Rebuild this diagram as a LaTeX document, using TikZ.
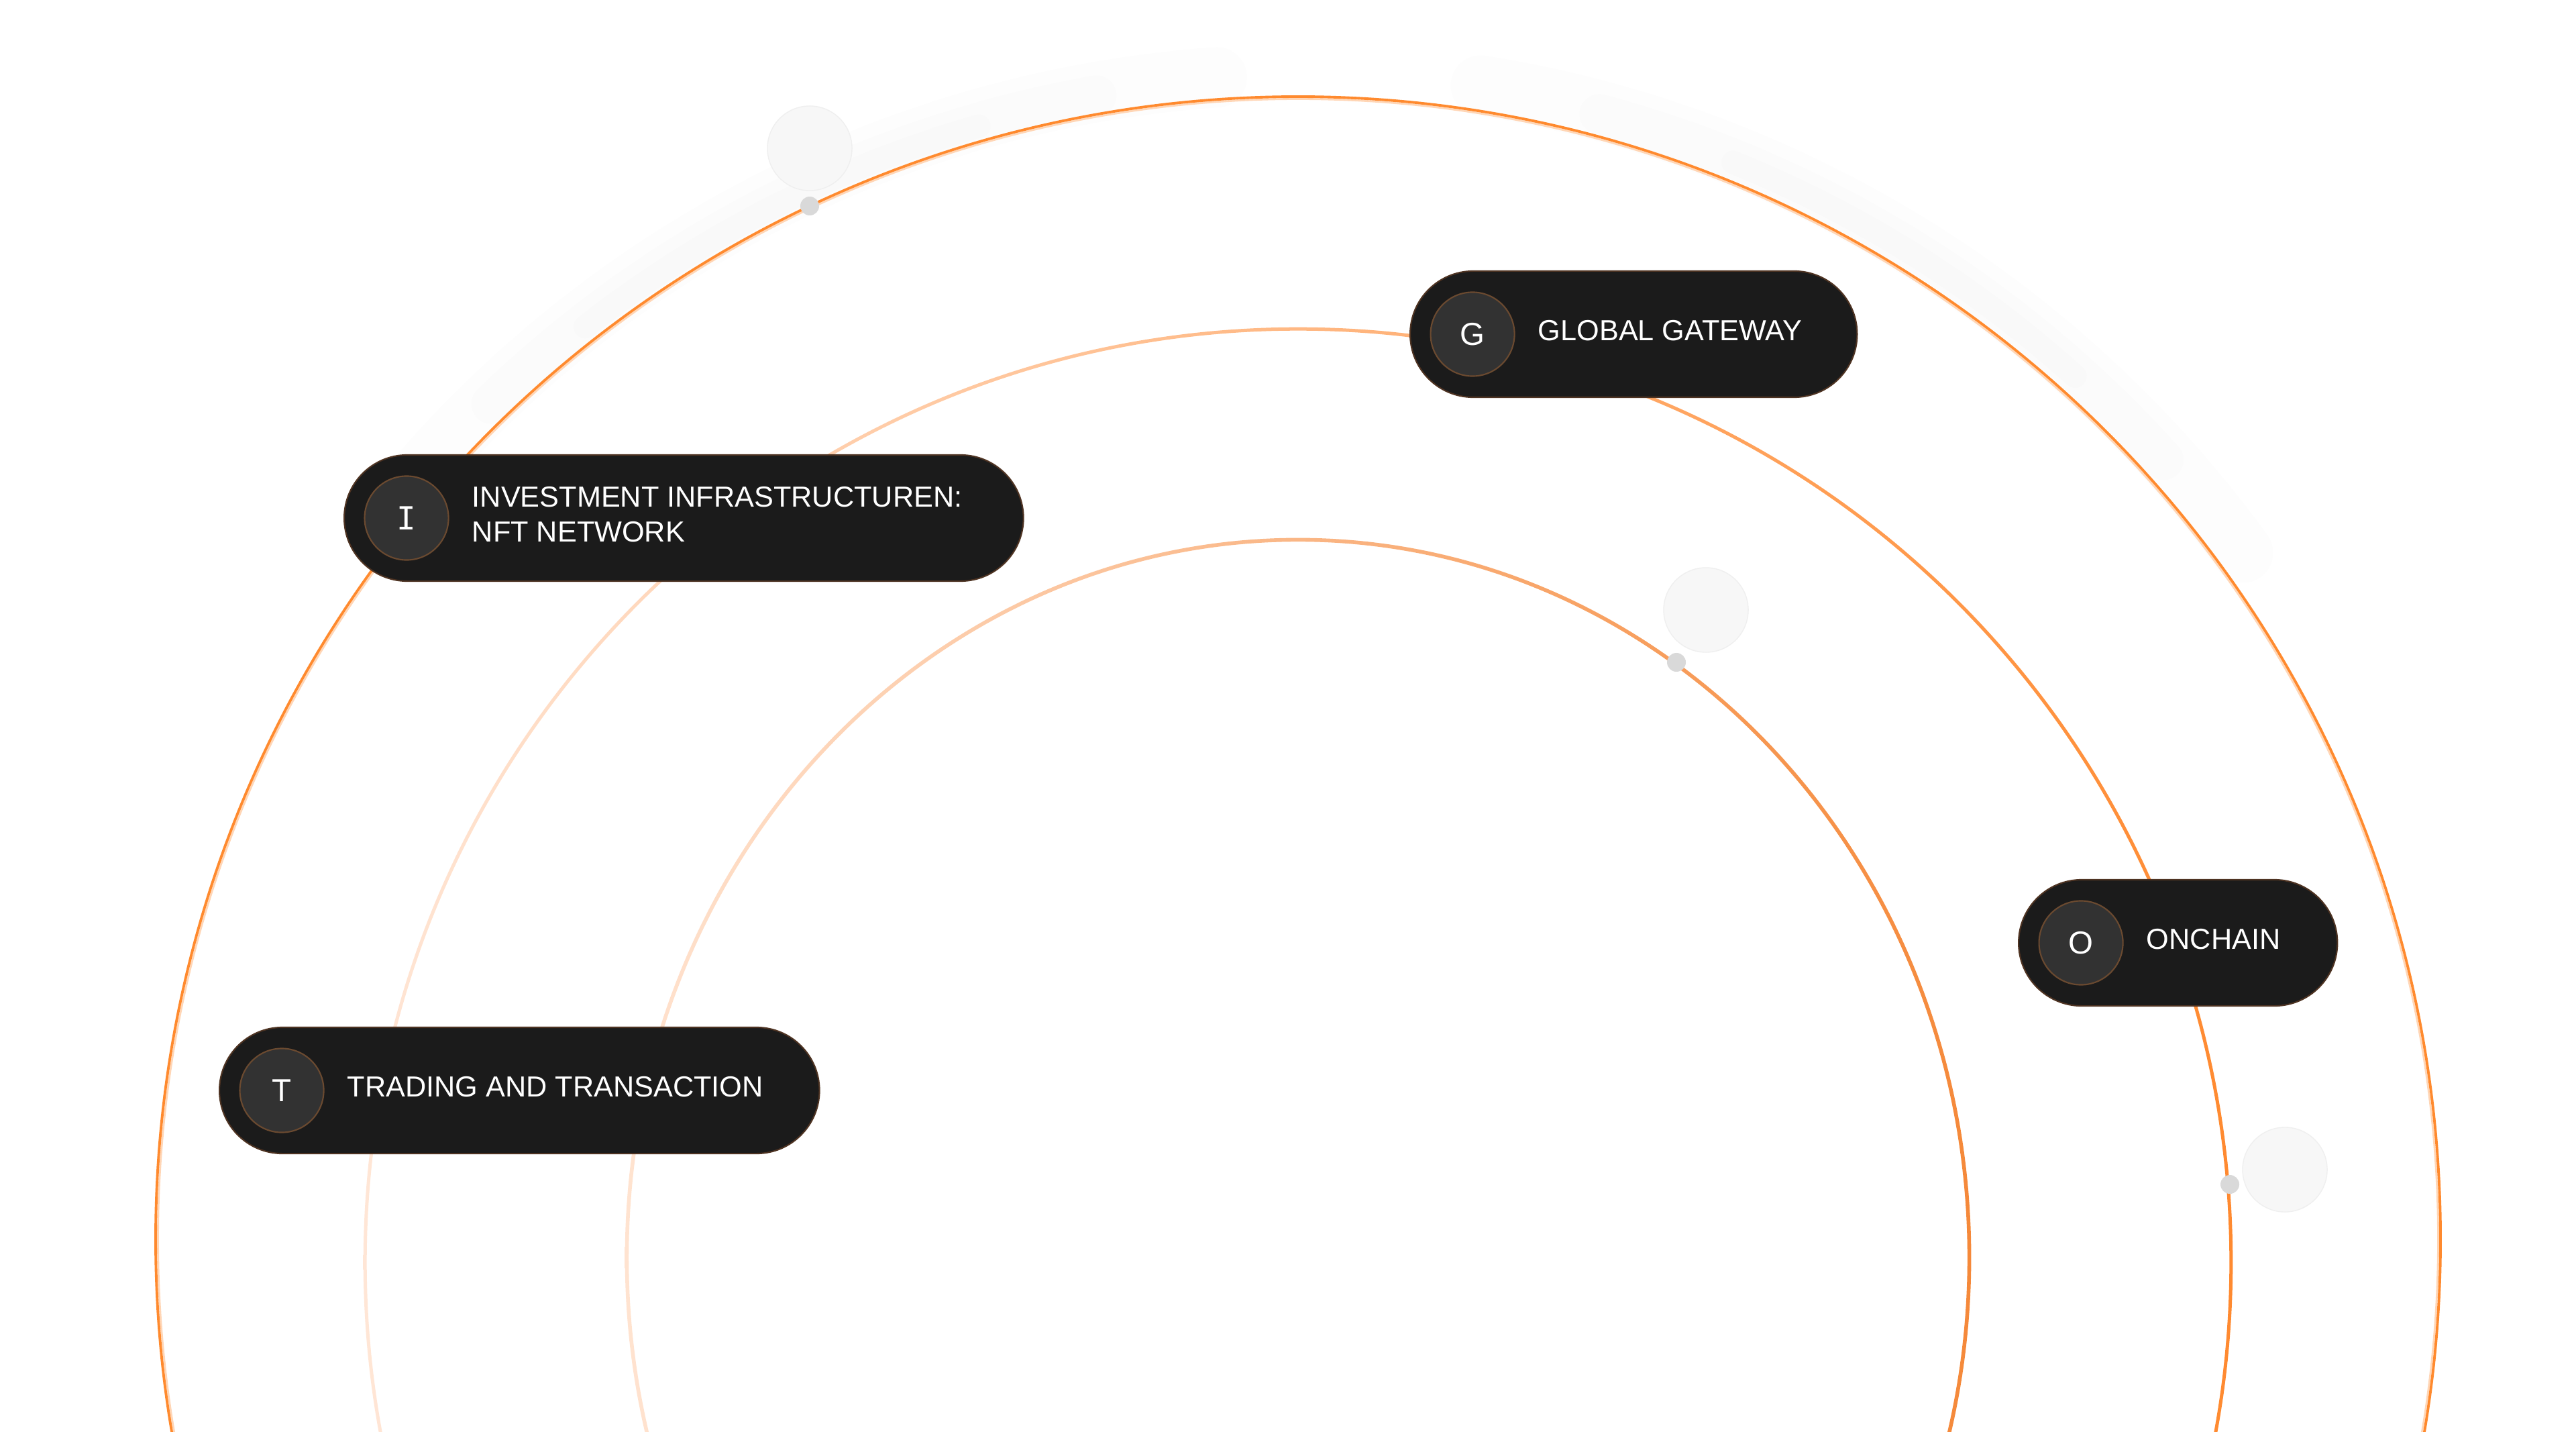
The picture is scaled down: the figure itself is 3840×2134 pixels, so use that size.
\documentclass[tikz,border=0pt]{standalone}
\usepackage{fontspec}
\setmainfont{Liberation Sans}
\newfontfamily\monofont{DejaVu Sans Mono}
\usetikzlibrary{positioning}

\definecolor{ringorange}{HTML}{FF8A2E}
\definecolor{ringpale}{HTML}{FFE6D6}
\definecolor{ringdeep}{HTML}{FF8A30}
\definecolor{innerpale}{HTML}{FFE3D0}
\definecolor{innerdeep}{HTML}{F5893A}
\definecolor{pillfill}{HTML}{1B1B1B}
\definecolor{pillline}{HTML}{4E3322}
\definecolor{iconfill}{HTML}{323232}
\definecolor{iconline}{HTML}{6B4A30}
\definecolor{dotgray}{HTML}{D9D9D9}
\definecolor{halofill}{HTML}{F7F7F7}
\definecolor{haloline}{HTML}{EFEFEF}

\begin{document}
\begin{tikzpicture}[
x=0.01cm, y=-0.01cm,
pill/.style={rectangle, rounded corners=0.94cm, minimum height=1.88cm, inner sep=0pt,
line width=0.6pt, draw=pillline, fill=pillfill},
icon/.style={circle, minimum size=1.25cm, inner sep=0pt, line width=0.6pt,
draw=iconline, fill=iconfill, text=white, font=\fontsize{13.5}{16}\selectfont},
pilltext/.style={inner sep=0pt, text=white, align=left, yshift=0.05cm,
font=\fontsize{12.3}{14.8}\selectfont},
halo/.style={circle, minimum size=1.26cm, inner sep=0pt, line width=0.4pt, draw=haloline, fill=halofill},
ringdot/.style={circle, minimum size=0.28cm, inner sep=0pt, fill=dotgray},
smoke/.style={black, line cap=round, opacity=0.009}
]
\useasboundingbox (0,0) rectangle (3840,2134);
\fill[white] (0,0) rectangle (3840,2134);
\clip (0,0) rectangle (3840,2134);

% rings
\coordinate (outer-c) at (1935,1847);
\coordinate (middle-c) at (1935,1881);
\coordinate (inner-c) at (1935,1874);

% faint haze along the outer ring
\draw[smoke, line width=0.9cm] (outer-c) ++(140:17.35cm) arc[start angle=140, end angle=94, radius=17.35cm];
\draw[smoke, line width=0.6cm] (outer-c) ++(134:17.3cm) arc[start angle=134, end angle=100, radius=17.3cm];
\draw[smoke, line width=0.35cm] (outer-c) ++(128:17.25cm) arc[start angle=128, end angle=106, radius=17.25cm];
\draw[smoke, line width=0.9cm] (outer-c) ++(81:17.4cm) arc[start angle=81, end angle=36, radius=17.4cm];
\draw[smoke, line width=0.6cm] (outer-c) ++(75:17.35cm) arc[start angle=75, end angle=42, radius=17.35cm];
\draw[smoke, line width=0.35cm] (outer-c) ++(68:17.3cm) arc[start angle=68, end angle=48, radius=17.3cm];

\draw[ringorange!35, line width=0.8pt] (outer-c) circle (16.985cm);
\draw[ringorange, line width=1.1pt] (outer-c) circle (17.02cm);
\shade[left color=ringpale, right color=ringdeep, even odd rule]
  (middle-c) circle (13.925cm) (middle-c) circle (13.875cm);
\shade[left color=innerpale, right color=innerdeep, even odd rule]
  (inner-c) ellipse [x radius=10.028cm, y radius=10.718cm]
  (inner-c) ellipse [x radius=9.972cm, y radius=10.662cm];

% markers
\node[halo] (halo-top) at (1207,221) {};
\node[ringdot] (dot-top) at (1207,307) {};
\node[halo] (halo-mid) at (2543,909) {};
\node[ringdot] (dot-mid) at (2499,987) {};
\node[halo] (halo-right) at (3406,1743) {};
\node[ringdot] (dot-right) at (3324,1765) {};

% pills
\node[pill, anchor=west, minimum width=10.12cm] (invest) at (512,772) {};
\node[icon] (invest-icon) at ([xshift=0.94cm]invest.west) {\monofont I};
\node[pilltext, right=0.335cm of invest-icon] (invest-text) {INVESTMENT INFRASTRUCTUREN:\\NFT NETWORK};

\node[pill, anchor=west, minimum width=6.66cm] (gateway) at (2101,498) {};
\node[icon] (gateway-icon) at ([xshift=0.94cm]gateway.west) {G};
\node[pilltext, right=0.335cm of gateway-icon] (gateway-text) {GLOBAL GATEWAY};

\node[pill, anchor=west, minimum width=4.75cm] (onchain) at (3008,1405) {};
\node[icon] (onchain-icon) at ([xshift=0.94cm]onchain.west) {O};
\node[pilltext, right=0.335cm of onchain-icon] (onchain-text) {ONCHAIN};

\node[pill, anchor=west, minimum width=8.94cm] (trading) at (326,1625) {};
\node[icon] (trading-icon) at ([xshift=0.94cm]trading.west) {T};
\node[pilltext, right=0.335cm of trading-icon] (trading-text) {TRADING AND TRANSACTION};
\end{tikzpicture}
\end{document}
